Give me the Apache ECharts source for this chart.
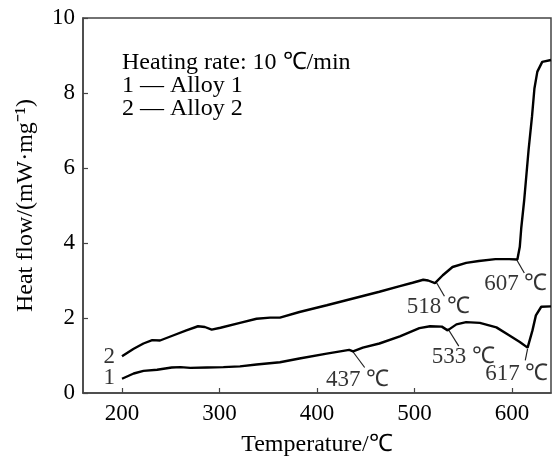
<!DOCTYPE html>
<html>
<head>
<meta charset="utf-8">
<script src="https://cdn.jsdelivr.net/npm/echarts@6/dist/echarts.min.js"></script>
<style>html,body{margin:0;padding:0;background:#fff}#c{width:552px;height:457px}</style>
</head>
<body>
<div id="c"></div>
<script>
// ---- data ----
var alloy1Temp = [200,212,222,236,251,260,270,287,304,321,338,362,382,410,433,437,447,464,485,505,516,528,534,543,553,567,584,597,608,616,621,624.5,630,640];
var alloy1Flow = [0.38,0.52,0.59,0.62,0.68,0.69,0.67,0.68,0.69,0.71,0.76,0.82,0.92,1.05,1.15,1.11,1.21,1.32,1.51,1.73,1.78,1.77,1.67,1.83,1.89,1.87,1.75,1.54,1.36,1.21,1.67,2.07,2.30,2.31];
var alloy2Temp = [200,212,222,231,239,253,266,278,285,292,301,321,338,352,362,382,410,437,464,485,498,509,514,521,529,539,553,566,583,597,605.5,608,609.5,612.5,617,620.5,623,626,631,640];
var alloy2Flow = [0.98,1.18,1.32,1.41,1.40,1.54,1.67,1.78,1.76,1.69,1.74,1.87,1.98,2.01,2.01,2.16,2.34,2.52,2.70,2.85,2.94,3.02,3.00,2.93,3.14,3.36,3.47,3.52,3.57,3.57,3.56,3.90,4.40,5.14,6.48,7.37,8.12,8.57,8.83,8.88];
var xTicks = [200,300,400,500,600];
var yTicks = [0,2,4,6,8,10];
var annoTexts = ['437 ℃','518 ℃','607 ℃','533 ℃','617 ℃','1','2'];
var annoTemp  = [441.7,524.6,603.9,550.2,604.9,187,187];
var annoFlow  = [0.36,2.29,2.91,0.96,0.51,0.39,0.95];
var leaderFromTemp = [436.3,522.2,605.1,534.1,616.0];
var leaderFromFlow = [1.12,2.96,3.54,1.72,1.18];
var leaderToTemp   = [448.9,530.7,612.6,545.4,613.6];
var leaderToFlow   = [0.68,2.58,3.20,1.25,0.87];
var legendLines = ['Heating rate: 10 ℃/min','1 — Alloy 1','2 — Alloy 2'];

function pairs(xs, ys){ return xs.map(function(x,i){ return [x, ys[i]]; }); }

var FONT = '"Liberation Serif","Times New Roman",serif';
var chart = echarts.init(document.getElementById('c'), null, {renderer:'canvas'});
chart.setOption({
  animation:false,
  backgroundColor:'#fff',
  grid:{left:83, right:1, top:18, bottom:64, outerBoundsMode:'none', containLabel:false,
        show:true, borderColor:'#444', borderWidth:1.5, backgroundColor:'transparent'},
  xAxis:{
    type:'value', min:160, max:640,
    name:'Temperature/℃', nameLocation:'middle', nameGap:40,
    nameTextStyle:{fontFamily:FONT, fontSize:24, color:'#000'},
    axisLine:{show:true, lineStyle:{color:'#444', width:1.5}},
    axisTick:{show:true, inside:true, length:5, customValues:xTicks, lineStyle:{color:'#444', width:1.2}},
    axisLabel:{customValues:xTicks, fontFamily:FONT, fontSize:23, color:'#000', margin:9},
    splitLine:{show:false}
  },
  yAxis:{
    type:'value', min:0, max:10, interval:2,
    name:'Heat flow/(mW·mg⁻¹)', nameLocation:'middle', nameGap:45, nameRotate:90,
    nameTextStyle:{fontFamily:FONT, fontSize:24, color:'#000'},
    axisLine:{show:true, lineStyle:{color:'#444', width:1.5}},
    axisTick:{show:true, inside:true, length:5, lineStyle:{color:'#444', width:1.2}},
    axisLabel:{fontFamily:FONT, fontSize:23, color:'#000', margin:8},
    splitLine:{show:false}
  },
  graphic:[{
    type:'text', left:122, top:51,
    style:{text:legendLines.join('\n'), font:'24px '+FONT, lineHeight:23, fill:'#000'}
  }],
  series:[
    {name:'Alloy 1', type:'line', data:pairs(alloy1Temp, alloy1Flow), showSymbol:false, symbol:'none',
     lineStyle:{color:'#000', width:2.4}},
    {name:'Alloy 2', type:'line', data:pairs(alloy2Temp, alloy2Flow), showSymbol:false, symbol:'none',
     lineStyle:{color:'#000', width:2.4}},
    {name:'leaders', type:'lines', coordinateSystem:'cartesian2d',
     data:leaderFromTemp.map(function(x,i){ return {coords:[[x,leaderFromFlow[i]],[leaderToTemp[i],leaderToFlow[i]]]}; }),
     lineStyle:{color:'#222', width:1.2, opacity:1}, symbol:['none','none'], silent:true},
    {name:'annotations', type:'scatter', symbolSize:0, silent:true,
     data:annoTexts.map(function(t,i){ return {value:[annoTemp[i], annoFlow[i]], name:t}; }),
     label:{show:true, position:'inside', formatter:function(p){return p.name;}, fontFamily:FONT, fontSize:23, color:'#000'}}
  ]
});
</script>
</body>
</html>
